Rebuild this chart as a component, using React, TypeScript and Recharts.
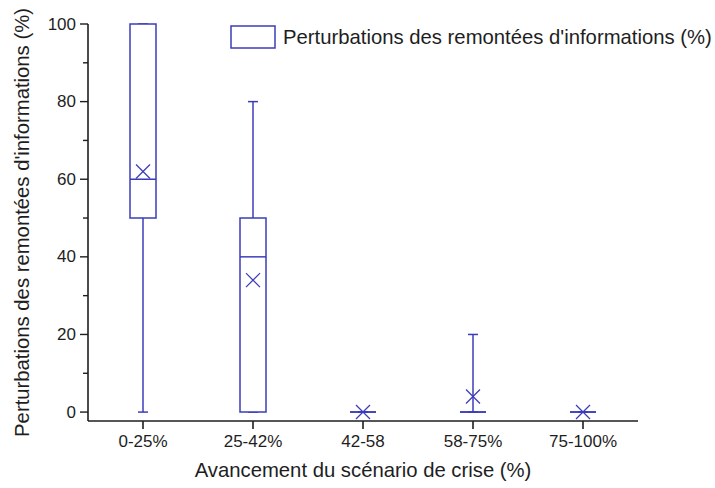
import { ComposedChart, Bar, Scatter, XAxis, YAxis, Legend } from 'recharts'

const categories = ['0-25%', '25-42%', '42-58', '58-75%', '75-100%']
const minValues = [0, 0, 0, 0, 0]
const q1Values = [50, 0, 0, 0, 0]
const medianValues = [60, 40, 0, 0, 0]
const q3Values = [100, 50, 0, 0, 0]
const maxValues = [100, 80, 0, 20, 0]
const meanValues = [62, 34, 0, 4, 0]

// every 10 gets a tick, only every 20 gets a label
const yTicks = [0, 10, 20, 30, 40, 50, 60, 70, 80, 90, 100]

const seriesName = "Perturbations des remontées d'informations (%)"
const xTitle = 'Avancement du scénario de crise (%)'

const BLUE = '#3c3cba'
const INK = '#1e1e1e'
const FONT = '"Liberation Sans", Arial, sans-serif'

const TICK_SIZE = 8
const TICK_MARGIN = 4

const data = categories.map((cat, i) => ({
    cat,
    whisker: [minValues[i], maxValues[i]],
    box: [q1Values[i], q3Values[i]],
    median: [medianValues[i], medianValues[i]],
    mean: meanValues[i],
}))

function WhiskerShape(props: any) {
    const { x, y, width, height } = props
    const cx = x + width / 2
    const top = Math.min(y, y + height)
    const bottom = Math.max(y, y + height)
    return (
        <g stroke={BLUE} strokeWidth={1.5}>
            <line x1={cx} x2={cx} y1={top} y2={bottom} />
            <line x1={cx - 5} x2={cx + 5} y1={top} y2={top} />
            <line x1={cx - 5} x2={cx + 5} y1={bottom} y2={bottom} />
        </g>
    )
}

function BoxShape(props: any) {
    const { x, y, width, height } = props
    const top = Math.min(y, y + height)
    const h = Math.abs(height)
    return (
        <path
            d={`M${x},${top}h${width}v${h}h${-width}Z`}
            fill="#ffffff"
            stroke={BLUE}
            strokeWidth={1.5}
        />
    )
}

function MedianShape(props: any) {
    const { x, y, width } = props
    return <line x1={x} x2={x + width} y1={y} y2={y} stroke={BLUE} strokeWidth={1.5} />
}

function MeanShape(props: any) {
    const { cx, cy } = props
    const s = 7
    return (
        <g stroke={BLUE} strokeWidth={1.3}>
            <line x1={cx - s} x2={cx + s} y1={cy - s} y2={cy + s} />
            <line x1={cx - s} x2={cx + s} y1={cy + s} y2={cy - s} />
        </g>
    )
}

function YTick(props: any) {
    const { x, y, payload } = props
    const v = payload.value
    const major = v % 20 === 0
    const axisX = x + TICK_MARGIN + TICK_SIZE
    const len = major ? TICK_SIZE : 5
    return (
        <g>
            <line x1={axisX - len} x2={axisX} y1={y} y2={y} stroke={INK} strokeWidth={1.4} />
            {major && (
                <text x={x} y={y} textAnchor="end" dominantBaseline="central" fontSize={17} fill={INK} fontFamily={FONT}>
                    {v}
                </text>
            )}
        </g>
    )
}

function LegendContent() {
    return (
        <div style={{ display: 'flex', alignItems: 'center', fontFamily: FONT, fontSize: 20.3, color: INK, whiteSpace: 'nowrap' }}>
            <svg width={46} height={24} style={{ marginRight: 7 }}>
                <rect x={1} y={1} width={44} height={22} fill="#ffffff" stroke={BLUE} strokeWidth={1.5} />
            </svg>
            <span>{seriesName}</span>
        </div>
    )
}

export default function App() {
    return (
        <div style={{ position: 'absolute', left: 0, top: 0, width: 715, height: 488, background: '#fff' }}>
            <ComposedChart
                width={715}
                height={488}
                data={data}
                margin={{ top: 24, right: 77, bottom: 0, left: 0 }}
                style={{ fontFamily: FONT }}
            >
                <XAxis
                    dataKey="cat"
                    xAxisId="main"
                    height={67}
                    tickSize={TICK_SIZE}
                    tickMargin={6}
                    stroke={INK}
                    axisLine={{ stroke: INK, strokeWidth: 1.6 }}
                    tickLine={{ stroke: INK, strokeWidth: 1.6 }}
                    tick={{ fill: INK, fontSize: 17 }}
                    label={{
                        content: (p: any) => {
                            const vb = p.viewBox
                            return (
                                <text
                                    x={vb.x + vb.width / 2}
                                    y={vb.y + 56}
                                    textAnchor="middle"
                                    fontSize={20.3}
                                    fill={INK}
                                    fontFamily={FONT}
                                >
                                    {xTitle}
                                </text>
                            )
                        },
                    }}
                />
                <XAxis dataKey="cat" xAxisId="w" hide height={0} />
                <XAxis dataKey="cat" xAxisId="b" hide height={0} />
                <XAxis dataKey="cat" xAxisId="m" hide height={0} />
                <YAxis
                    yAxisId="main"
                    type="number"
                    domain={[-2.3, 100]}
                    ticks={yTicks}
                    interval={0}
                    width={88}
                    tickSize={TICK_SIZE}
                    tickMargin={TICK_MARGIN}
                    stroke={INK}
                    axisLine={{ stroke: INK, strokeWidth: 1.6 }}
                    tickLine={false}
                    tick={YTick}
                    label={{
                        content: (p: any) => {
                            const vb = p.viewBox
                            const cx = vb.x + 22
                            const cy = vb.y + vb.height / 2
                            return (
                                <text
                                    x={cx}
                                    y={cy}
                                    transform={`rotate(-90 ${cx} ${cy})`}
                                    textAnchor="middle"
                                    dominantBaseline="central"
                                    fontSize={20.3}
                                    fill={INK}
                                    fontFamily={FONT}
                                >
                                    {seriesName}
                                </text>
                            )
                        },
                    }}
                />
                <Legend
                    verticalAlign="middle"
                    align="center"
                    layout="horizontal"
                    wrapperStyle={{ top: 25, left: 230, width: 'auto' }}
                    content={() => <LegendContent />}
                />
                <Bar
                    dataKey="whisker"
                    xAxisId="w"
                    yAxisId="main"
                    barSize={26}
                    shape={WhiskerShape}
                    isAnimationActive={false}
                    legendType="none"
                />
                <Bar
                    dataKey="box"
                    xAxisId="b"
                    yAxisId="main"
                    barSize={26}
                    shape={BoxShape}
                    isAnimationActive={false}
                    name={seriesName}
                />
                <Bar
                    dataKey="median"
                    xAxisId="m"
                    yAxisId="main"
                    barSize={26}
                    shape={MedianShape}
                    isAnimationActive={false}
                    legendType="none"
                />
                <Scatter
                    dataKey="mean"
                    xAxisId="main"
                    yAxisId="main"
                    shape={MeanShape}
                    isAnimationActive={false}
                    legendType="none"
                />
            </ComposedChart>
        </div>
    )
}
